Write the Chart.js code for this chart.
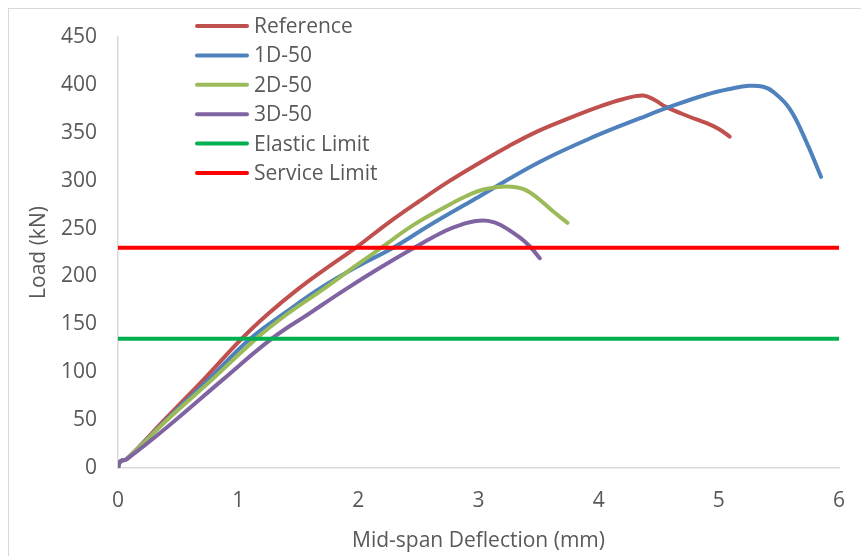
<!DOCTYPE html>
<html>
<head>
<meta charset="utf-8">
<script src="https://cdn.jsdelivr.net/npm/chart.js@4"></script>
<style>
  html, body { margin: 0; padding: 0; background: #fff; overflow: hidden; }
  #frame { position: absolute; left: 8px; top: 8px; width: 900px; height: 600px; border: 1px solid #d9d9d9; }
  #chart { position: absolute; left: 0; top: 0; }
</style>
</head>
<body>
<div id="frame"></div>
<canvas id="chart" width="861" height="556"></canvas>
<script>
// deflection (mm) / load (kN)
const refX = [0, 0.02, 0.07, 0.4, 0.71, 1.03, 1.25, 1.5, 1.75, 2.0, 2.25, 2.5, 2.75, 3.0, 3.25, 3.5, 3.75, 4.0, 4.2, 4.37, 4.47, 4.56, 4.75, 4.9, 5.0, 5.09];
const refY = [0, 7, 9, 52, 92, 135, 161, 187, 210, 232, 256, 278, 299, 318, 336, 352, 365, 377, 385, 389, 384, 377, 367, 360, 354, 346];

const d1X = [0, 0.02, 0.07, 0.4, 0.75, 1.1, 1.4, 1.7, 2.0, 2.29, 2.6, 3.0, 3.5, 4.0, 4.34, 4.59, 4.9, 5.1, 5.25, 5.37, 5.45, 5.59, 5.73, 5.85];
const d1Y = [0, 7, 9, 50, 92, 135, 163, 189, 211, 230, 254, 283, 319, 348, 365, 377, 390, 396, 399, 398, 393, 375, 340, 304];

const d2X = [0, 0.02, 0.07, 0.4, 0.78, 1.15, 1.4, 1.7, 2.0, 2.18, 2.45, 2.73, 2.9, 3.05, 3.23, 3.38, 3.51, 3.62, 3.74];
const d2Y = [0, 7, 9, 49, 92, 135, 160, 186, 213, 229, 253, 273, 284, 291, 294, 291, 280, 268, 256];

const d3X = [0, 0.02, 0.07, 0.45, 0.87, 1.28, 1.6, 1.9, 2.18, 2.45, 2.73, 2.88, 2.98, 3.08, 3.18, 3.34, 3.43, 3.51];
const d3Y = [0, 7, 9, 47, 92, 135, 162, 187, 209, 229, 248, 255, 258, 258, 254, 241, 231, 219];

const limitX = [0, 6];
const elasticY = [135, 135];
const serviceY = [230, 230];

const seriesNames = ['Reference', '1D-50', '2D-50', '3D-50', 'Elastic Limit', 'Service Limit'];
const seriesColors = ['#C0504D', '#4F81BD', '#9BBB59', '#8064A2', '#00B050', '#FF0000'];

const xTicks = [0, 1, 2, 3, 4, 5, 6];
const yTicks = [0, 50, 100, 150, 200, 250, 300, 350, 400, 450];

const toPoints = (xs, ys) => xs.map((x, i) => ({ x: x, y: ys[i] }));

const FONT = "'Open Sans', 'Liberation Sans', sans-serif";
const TEXT = '#595959';
const FS = 21;

// legend drawn inside the plot area, like the Excel chart
const insideLegend = {
    id: 'insideLegend',
    afterDraw(chart) {
        const ctx = chart.ctx;
        ctx.save();
        ctx.font = FS + 'px ' + FONT;
        ctx.textBaseline = 'middle';
        ctx.lineCap = 'round';
        chart.data.datasets.forEach((ds, i) => {
            const y = 26 + i * 29.4;
            ctx.strokeStyle = ds.borderColor;
            ctx.lineWidth = 4;
            ctx.beginPath();
            ctx.moveTo(197, y);
            ctx.lineTo(247, y);
            ctx.stroke();
            ctx.fillStyle = TEXT;
            ctx.fillText(ds.label, 254, y + 1);
        });
        ctx.restore();
    }
};

function makeSet(i, pts, order, smooth) {
    return {
        label: seriesNames[i],
        data: pts,
        borderColor: seriesColors[i],
        backgroundColor: seriesColors[i],
        borderWidth: 4,
        pointRadius: 0,
        showLine: true,
        fill: false,
        order: order,
        borderCapStyle: smooth ? 'round' : 'butt',
        borderJoinStyle: 'round',
        tension: smooth ? 0.4 : 0
    };
}

new Chart(document.getElementById('chart'), {
    type: 'scatter',
    data: {
        datasets: [
            makeSet(0, toPoints(refX, refY), 5, true),
            makeSet(1, toPoints(d1X, d1Y), 4, true),
            makeSet(2, toPoints(d2X, d2Y), 3, true),
            makeSet(3, toPoints(d3X, d3Y), 2, true),
            makeSet(4, toPoints(limitX, elasticY), 1, false),
            makeSet(5, toPoints(limitX, serviceY), 0, false)
        ]
    },
    options: {
        responsive: false,
        animation: false,
        events: [],
        layout: { padding: { left: 0, top: 37, right: 22, bottom: 0 } },
        plugins: { legend: { display: false }, tooltip: { enabled: false } },
        scales: {
            x: {
                type: 'linear',
                min: 0,
                max: 6,
                afterBuildTicks: (s) => { s.ticks = xTicks.map(v => ({ value: v })); },
                afterFit: (s) => { s.height = 88; s.paddingLeft = 0; s.paddingRight = 0; },
                grid: { display: false, drawTicks: false },
                border: { display: true, color: '#d9d9d9', width: 1.5 },
                ticks: { padding: 20, color: TEXT, font: { family: FONT, size: FS } },
                title: {
                    display: true,
                    text: 'Mid-span Deflection (mm)',
                    color: TEXT,
                    font: { family: FONT, size: FS },
                    padding: { top: 0, bottom: 2 }
                }
            },
            y: {
                type: 'linear',
                min: 0,
                max: 450,
                afterBuildTicks: (s) => { s.ticks = yTicks.map(v => ({ value: v })); },
                afterFit: (s) => { s.width = 118; },
                grid: { display: false, drawTicks: false },
                border: { display: true, color: '#d9d9d9', width: 1.5 },
                ticks: { padding: 21, color: TEXT, font: { family: FONT, size: FS } },
                title: {
                    display: true,
                    text: 'Load (kN)',
                    color: TEXT,
                    font: { family: FONT, size: FS },
                    padding: { top: 26, bottom: 0 }
                }
            }
        }
    },
    plugins: [insideLegend]
});
</script>
</body>
</html>
